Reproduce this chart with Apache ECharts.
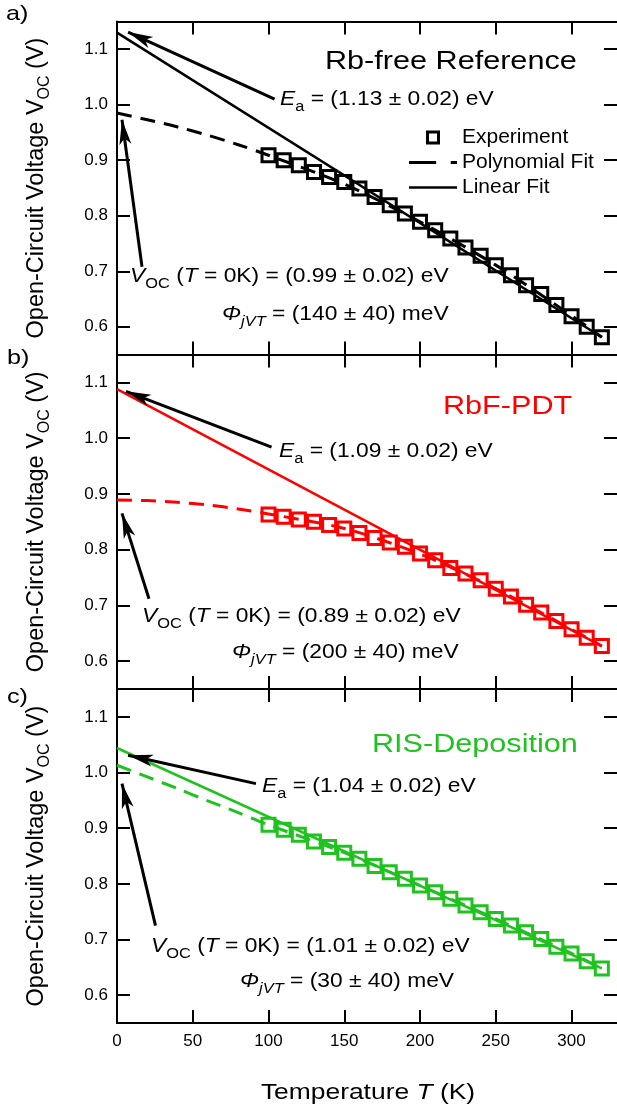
<!DOCTYPE html>
<html>
<head>
<meta charset="utf-8">
<title>Voc vs Temperature</title>
<script src="https://cdn.jsdelivr.net/npm/echarts@6/dist/echarts.min.js"></script>
<style>html,body{margin:0;padding:0;background:#fff;}</style>
</head>
<body>
<div id="main" style="width:617px;height:1110px;"></div>
<script>
var FONT = '"Liberation Sans", Arial, sans-serif';

// measured temperatures (K)
var temps = [100, 110, 120, 130, 140, 150, 160, 170, 180, 190, 200, 210,
             220, 230, 240, 250, 260, 270, 280, 290, 300, 310, 320];
// Voc (V) per sample
var vocRef = [0.909, 0.900, 0.891, 0.879, 0.870, 0.861, 0.849, 0.834, 0.819, 0.804, 0.789, 0.774,
              0.759, 0.743, 0.728, 0.711, 0.693, 0.675, 0.659, 0.639, 0.619, 0.600, 0.581];
var vocRbF = [0.863, 0.859, 0.854, 0.850, 0.844, 0.838, 0.830, 0.821, 0.813, 0.805, 0.793, 0.781,
              0.767, 0.757, 0.745, 0.730, 0.716, 0.701, 0.687, 0.672, 0.657, 0.642, 0.627];
var vocRIS = [0.906, 0.897, 0.888, 0.876, 0.866, 0.856, 0.845, 0.832, 0.821, 0.809, 0.797, 0.785,
              0.773, 0.761, 0.749, 0.737, 0.725, 0.713, 0.701, 0.687, 0.675, 0.661, 0.648];

// polynomial fit curves
var polyT   = [0, 20, 40, 60, 80, 100, 150, 200, 250, 300, 320];
var polyRef = [0.985, 0.973, 0.960, 0.945, 0.928, 0.909, 0.857, 0.789, 0.711, 0.620, 0.581];
var polyRbF = [0.889, 0.888, 0.885, 0.880, 0.873, 0.864, 0.838, 0.792, 0.730, 0.657, 0.627];
var polyRIS = [1.013, 0.992, 0.971, 0.949, 0.928, 0.906, 0.856, 0.797, 0.737, 0.675, 0.648];

// linear fits (end points)
var linT   = [0, 320];
var linRef = [1.130, 0.581];
var linRbF = [1.088, 0.627];
var linRIS = [1.044, 0.648];

// annotation arrows [tail, tip] in (T, V)
var arrowsRef = [[[104, 1.010], [7.3, 1.131]], [[16.5, 0.708], [3.3, 0.973]]];
var arrowsRbF = [[[102, 0.984], [5.9, 1.084]], [[21.1, 0.712], [3.3, 0.865]]];
var arrowsRIS = [[[91.7, 0.980], [7.3, 1.031]], [[25.4, 0.725], [3.3, 0.980]]];

var xTicks = [0, 50, 100, 150, 200, 250, 300];
var yTicks = [0.6, 0.7, 0.8, 0.9, 1.0, 1.1];

function zip(a, b) {
    return a.map(function (v, k) { return [v, b[k]]; });
}

var panels = [
    {letter: 'a)', title: 'Rb-free Reference', color: '#000000', exp: vocRef, poly: polyRef, lin: linRef, arrows: arrowsRef,
     top: 21.5, height: 333, ea: '1.13', voc: '0.99', phi: '140',
     pos: {letter: [6, 14], title: [325, 62], ea: [280, 100], voc: [130, 277], phi: [222, 315]}},
    {letter: 'b)', title: 'RbF-PDT', color: '#ff0000', exp: vocRbF, poly: polyRbF, lin: linRbF, arrows: arrowsRbF,
     top: 354.5, height: 334.5, ea: '1.09', voc: '0.89', phi: '200',
     pos: {letter: [7, 358], title: [443, 407], ea: [279, 452], voc: [142, 617], phi: [232, 653]}},
    {letter: 'c)', title: 'RIS-Deposition', color: '#1fc21f', exp: vocRIS, poly: polyRIS, lin: linRIS, arrows: arrowsRIS,
     top: 689, height: 334, ea: '1.04', voc: '1.01', phi: '30',
     pos: {letter: [7, 697], title: [372, 745], ea: [262, 787], voc: [151, 947], phi: [240, 982]}}
];

function rich(size) {
    var sub = Math.round(size * 0.7);
    return {
        n: {fontSize: size, fontFamily: FONT, fill: '#000'},
        i: {fontSize: size, fontFamily: FONT, fontStyle: 'italic', fill: '#000'},
        s: {fontSize: sub, fontFamily: FONT, fill: '#000', padding: [Math.round(size * 0.75), 0, 0, 0]},
        si: {fontSize: sub, fontFamily: FONT, fontStyle: 'italic', fill: '#000', padding: [Math.round(size * 0.75), 0, 0, 0]}
    };
}

function textEl(str, pos, size, sx, fill, align) {
    return {
        type: 'text', x: pos[0], y: pos[1], scaleX: sx, silent: true, z: 50,
        style: {
            text: str, rich: rich(size), fontSize: size, fontFamily: FONT,
            fill: fill || '#000', align: align || 'left', verticalAlign: 'middle'
        }
    };
}

var grids = [], xAxes = [], yAxes = [], series = [], graphics = [];
var axisCol = '#000';

panels.forEach(function (p, i) {
    grids.push({left: 117, right: 0, top: p.top, height: p.height});
    ['bottom', 'top'].forEach(function (side) {
        var lab = (side === 'bottom' && i === 2);
        xAxes.push({
            type: 'value', gridIndex: i, position: side, min: 0, max: 330,
            axisLine: {show: true, onZero: false, lineStyle: {color: axisCol, width: 2}},
            axisTick: {show: true, inside: true, length: 13, customValues: xTicks, lineStyle: {color: axisCol, width: 2}},
            axisLabel: {show: lab, customValues: xTicks, color: '#000', fontSize: 17, fontFamily: FONT, margin: 10},
            splitLine: {show: false}
        });
    });
    ['left', 'right'].forEach(function (side) {
        var left = side === 'left';
        yAxes.push({
            type: 'value', gridIndex: i, position: side, min: 0.55, max: 1.15,
            axisLine: {show: left, onZero: false, lineStyle: {color: axisCol, width: 2}},
            axisTick: {show: true, inside: true, length: 13, customValues: yTicks, lineStyle: {color: axisCol, width: 2}},
            axisLabel: {show: left, customValues: yTicks, color: '#000', fontSize: 17, fontFamily: FONT, margin: 9,
                        formatter: function (v) { return v.toFixed(1); }},
            splitLine: {show: false},
            name: left ? '{n|Open-Circuit Voltage V}{s|OC}{n| (V)}' : '',
            nameLocation: 'middle', nameRotate: 90, nameGap: 64,
            nameTextStyle: {
                rich: {
                    n: {fontSize: 23.5, fontFamily: FONT, color: '#000'},
                    s: {fontSize: 16, fontFamily: FONT, color: '#000', padding: [16, 0, 0, 0]}
                }
            }
        });
    });

    var ax = 2 * i;
    series.push({
        type: 'line', name: i ? 'poly' + i : 'Polynomial Fit', xAxisIndex: ax, yAxisIndex: ax,
        data: zip(polyT, p.poly), smooth: 0.3, symbol: 'none', z: 2,
        lineStyle: {color: p.color, width: 3, type: [15, 9]}, itemStyle: {color: p.color}
    });
    series.push({
        type: 'line', name: i ? 'lin' + i : 'Linear Fit', xAxisIndex: ax, yAxisIndex: ax,
        data: zip(linT, p.lin), symbol: 'none', z: 3,
        lineStyle: {color: p.color, width: 2.5}, itemStyle: {color: p.color},
        markLine: {
            silent: true, symbol: ['none', 'arrow'], symbolSize: [0, 24],
            label: {show: false},
            lineStyle: {color: '#000', width: 3, type: 'solid'},
            data: p.arrows.map(function (a) {
                return [{coord: a[0]}, {coord: a[1], symbolSize: [9, 25]}];
            })
        }
    });
    series.push({
        type: 'scatter', name: i ? 'exp' + i : 'Experiment', xAxisIndex: ax, yAxisIndex: ax,
        data: zip(temps, p.exp), symbol: 'rect', symbolSize: 13, z: 4,
        itemStyle: {color: 'rgba(255,255,255,0)', borderColor: p.color, borderWidth: 3, opacity: 1}
    });

    graphics.push(textEl('{n|' + p.letter + '}', p.pos.letter, 21, 1.2));
    graphics.push(textEl(p.title, p.pos.title, 25.5, 1.2, p.color));
    graphics.push(textEl('{i|E}{s|a}{n| = (' + p.ea + ' ± 0.02) eV}', p.pos.ea, 19.5, 1.17));
    graphics.push(textEl('{i|V}{s|OC}{n| (}{i|T}{n| = 0K) = (' + p.voc + ' ± 0.02) eV}', p.pos.voc, 19.5, 1.17));
    graphics.push(textEl('{i|Φ}{si|jVT}{n| = (' + p.phi + ' ± 40) meV}', p.pos.phi, 19.5, 1.17));
});

graphics.push(textEl('{n|Temperature }{i|T}{n| (K)}', [368, 1093], 22, 1.2, '#000', 'center'));

var legendIcon = {color: '#000', borderWidth: 0};
var myChart = echarts.init(document.getElementById('main'));
myChart.setOption({
    animation: false,
    backgroundColor: '#fff',
    grid: grids,
    xAxis: xAxes,
    yAxis: yAxes,
    legend: {
        data: [
            {name: 'Experiment', icon: 'path://M0,0h14v14h-14z M3,3v8h8v-8z', itemStyle: legendIcon},
            {name: 'Polynomial Fit', icon: 'path://M0,0h26v3h-26z M40,0h6v3h-6z', itemStyle: legendIcon},
            {name: 'Linear Fit', icon: 'path://M0,0h46v2.6h-46z', itemStyle: legendIcon}
        ],
        orient: 'vertical', left: 404, top: 122,
        itemWidth: 48, itemHeight: 14, itemGap: 4,
        selectedMode: false,
        textStyle: {fontSize: 21, fontFamily: FONT, color: '#000'}
    },
    series: series,
    graphic: graphics
});
</script>
</body>
</html>
